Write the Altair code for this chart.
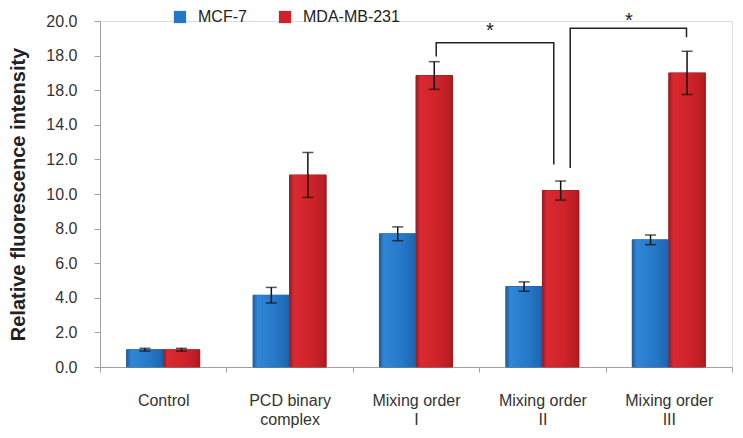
import altair as alt
import pandas as pd

categories = ["Control", "PCD binary complex", "Mixing order I", "Mixing order II", "Mixing order III"]
series = ["MCF-7", "MDA-MB-231"]
mcf7 = [1.0, 4.15, 7.7, 4.65, 7.35]
mcf7_err = [0.08, 0.45, 0.4, 0.27, 0.28]
mda = [1.0, 11.1, 16.85, 10.2, 17.0]
mda_err = [0.08, 1.3, 0.8, 0.55, 1.25]
y_ticks = [0, 2, 4, 6, 8, 10, 12, 14, 16, 18, 20]

# significance brackets (x in category units: category i spans [i, i+1])
bracket_id = [1, 1, 1, 1, 2, 2, 2, 2]
bracket_order = [0, 1, 2, 3, 0, 1, 2, 3]
bracket_x = [2.66, 2.66, 3.59, 3.59, 3.72, 3.72, 4.64, 4.64]
bracket_y = [17.95, 18.75, 18.75, 11.7, 11.5, 19.58, 19.58, 19.06]
star_x = [3.085, 4.185]
star_y = [19.4, 20.0]

rows = []
for i, c in enumerate(categories):
    rows.append({"cat": c, "series": series[0], "v": mcf7[i], "lo": mcf7[i] - mcf7_err[i], "hi": mcf7[i] + mcf7_err[i]})
    rows.append({"cat": c, "series": series[1], "v": mda[i], "lo": mda[i] - mda_err[i], "hi": mda[i] + mda_err[i]})
df = pd.DataFrame(rows)

br = pd.DataFrame({"id": bracket_id, "o": bracket_order, "x": bracket_x, "y": bracket_y})
st = pd.DataFrame({"x": star_x, "y": star_y, "t": ["*", "*"]})

ydom = alt.Scale(domain=[0, 20])
xscale = alt.Scale(paddingInner=0, paddingOuter=0)
offscale = alt.Scale(paddingInner=0, paddingOuter=0.73)

label_expr = ("lastindexof(datum.label,' ') > 0 && datum.label != 'Control' ? "
              "[substring(datum.label,0,lastindexof(datum.label,' ')), "
              "substring(datum.label,lastindexof(datum.label,' ')+1)] : datum.label")

xaxis = alt.Axis(labelAngle=0, tickBand="extent", labelExpr=label_expr,
                 labelFontSize=16, labelColor="#333333", labelPadding=20,
                 domainColor="#a0a0a0", tickColor="#a0a0a0", tickSize=5,
                 labelFont="Liberation Sans", labelLineHeight=19)
yaxis = alt.Axis(values=y_ticks, grid=False, labelOverlap=False,
                 labelExpr="datum.value == 16 ? '18.0' : format(datum.value, '.1f')",
                 labelFontSize=16, labelColor="#333333", labelPadding=17,
                 labelFont="Liberation Sans",
                 domainColor="#a0a0a0", tickColor="#a0a0a0", tickSize=6,
                 titleFontSize=20, titleFont="Liberation Sans", titleFontWeight="bold",
                 titleColor="#222222", titlePadding=17)
ytitle = "Relative fluorescence intensity"

xenc = alt.X("cat:N", sort=categories, scale=xscale, title=None, axis=xaxis)
offenc = alt.XOffset("series:N", sort=series, scale=offscale)
yenc_v = alt.Y("v:Q", scale=ydom, title=ytitle, axis=yaxis)

bars = alt.Chart(df).mark_bar(strokeWidth=1).encode(
    x=xenc,
    xOffset=offenc,
    y=yenc_v,
    color=alt.Color("series:N", sort=series,
                    scale=alt.Scale(domain=series, range=["#2477c9", "#d0222a"]),
                    legend=alt.Legend(title=None, orient="none", legendX=72, legendY=-12,
                                      direction="horizontal", symbolType="square",
                                      symbolSize=150, labelFontSize=16, labelFont="Liberation Sans",
                                      labelColor="#222222", labelOffset=10, columnPadding=30,
                                      symbolStrokeWidth=0)),
    stroke=alt.Stroke("series:N", sort=series,
                      scale=alt.Scale(domain=series, range=["#1a5a9e", "#9e1a1f"]), legend=None),
)

def shade(name, edge, light, mid, dark):
    grad = alt.Gradient(gradient="linear", x1=0, x2=1, y1=0, y2=0, stops=[
        alt.GradientStop(color=edge, offset=0),
        alt.GradientStop(color=light, offset=0.12),
        alt.GradientStop(color=mid, offset=0.6),
        alt.GradientStop(color=dark, offset=0.93),
        alt.GradientStop(color=edge, offset=1)])
    return alt.Chart(df).transform_filter(alt.datum.series == name).mark_bar(
        fill=grad, strokeWidth=0).encode(x=xenc, xOffset=offenc, y=yenc_v)

shade_b = shade(series[0], "#1b5da3", "#3186d6", "#2679c9", "#1f68b2")
shade_r = shade(series[1], "#9c1a1f", "#d92a31", "#cf2229", "#b81d24")

err = alt.Chart(df).mark_rule(color="#111111", strokeWidth=1.5).encode(
    x=xenc, xOffset=offenc,
    y=alt.Y("lo:Q", scale=ydom, title=ytitle, axis=yaxis), y2="hi:Q")
cap_lo = alt.Chart(df).mark_tick(color="#111111", thickness=1.5, size=11, orient="horizontal").encode(
    x=xenc, xOffset=offenc,
    y=alt.Y("lo:Q", scale=ydom, title=ytitle, axis=yaxis))
cap_hi = alt.Chart(df).mark_tick(color="#111111", thickness=1.5, size=11, orient="horizontal").encode(
    x=xenc, xOffset=offenc,
    y=alt.Y("hi:Q", scale=ydom, title=ytitle, axis=yaxis))

base = alt.layer(bars, shade_b, shade_r, err, cap_lo, cap_hi)

qx = alt.Scale(domain=[0, 5], nice=False, zero=False)
brackets = alt.Chart(br).mark_line(color="#222222", strokeWidth=1.5, clip=False).encode(
    x=alt.X("x:Q", scale=qx, axis=None),
    y=alt.Y("y:Q", scale=ydom, title=ytitle, axis=yaxis),
    detail="id:N", order="o:Q")
stars = alt.Chart(st).mark_text(fontSize=20, font="Liberation Sans", color="#222222", baseline="middle").encode(
    x=alt.X("x:Q", scale=qx, axis=None),
    y=alt.Y("y:Q", scale=ydom, title=ytitle, axis=yaxis),
    text="t:N")
ann = alt.layer(brackets, stars)

chart = alt.layer(base, ann).resolve_scale(x="independent").properties(
    width=632, height=346, autosize=alt.AutoSizeParams(type="none"),
    padding={"left": 92, "top": 13, "right": 3, "bottom": 71}
).configure_view(stroke=None).configure(background="white")

chart.save("out.html", embed_options={"renderer": "svg", "actions": False})
